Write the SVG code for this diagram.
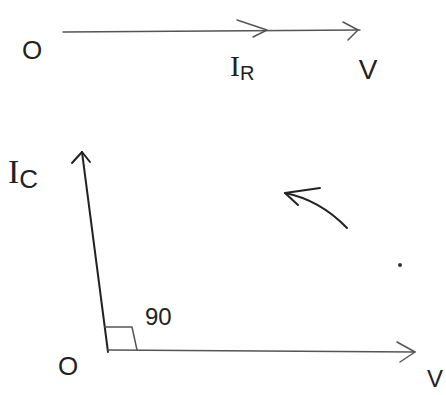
<svg xmlns="http://www.w3.org/2000/svg" width="446" height="395" viewBox="0 0 446 395">
<style>
.ln{fill:none;stroke:#222;stroke-width:2;stroke-linecap:round;stroke-linejoin:round}
.lt{fill:none;stroke:#555;stroke-width:1.5;stroke-linecap:round;stroke-linejoin:round}
.t{font-family:"Liberation Sans",Arial,sans-serif;fill:#222}
.s{font-family:"Liberation Serif","Times New Roman",serif}
</style>
<rect width="446" height="395" fill="#fff"/>
<g id="connectors">
  <path class="lt" d="M63,32 L360,30"/>
  <path class="lt" d="M237,20 L267,30 L253,37"/>
  <path class="lt" d="M343,22 L358,30 L348,40"/>
  <path class="ln" d="M108,352 L82,152"/>
  <path class="ln" d="M72,163 L82,152 L90,162"/>
  <path class="lt" d="M108,350 L415,352"/>
  <path class="lt" d="M397,342 L415,352 L400,362"/>
  <path class="lt" d="M105,327 L132,327 L137,350"/>
  <path class="ln" d="M347,228 Q320,200 285,193"/>
  <path class="ln" d="M320,188 L285,193 L298,205"/>
</g>
<g id="origin-top"><text class="t" x="32" y="59" font-size="26" text-anchor="middle">O</text></g>
<g id="IR"><text class="t" x="230" y="76" font-size="30"><tspan class="s">I</tspan><tspan font-size="20" dy="4">R</tspan></text></g>
<g id="V-top"><text class="t" x="368" y="79" font-size="28" text-anchor="middle">V</text></g>
<g id="IC"><text class="t" x="8" y="183" font-size="34"><tspan class="s">I</tspan><tspan font-size="26" dy="5">C</tspan></text></g>
<g id="angle"><text class="t" x="145" y="325" font-size="24">90</text></g>
<g id="origin-bottom"><text class="t" x="68" y="375" font-size="26" text-anchor="middle">O</text></g>
<g id="V-bottom"><text class="t" x="443" y="387" font-size="24" text-anchor="end">V</text></g>
<circle cx="400" cy="265" r="2" fill="#333"/>
</svg>
